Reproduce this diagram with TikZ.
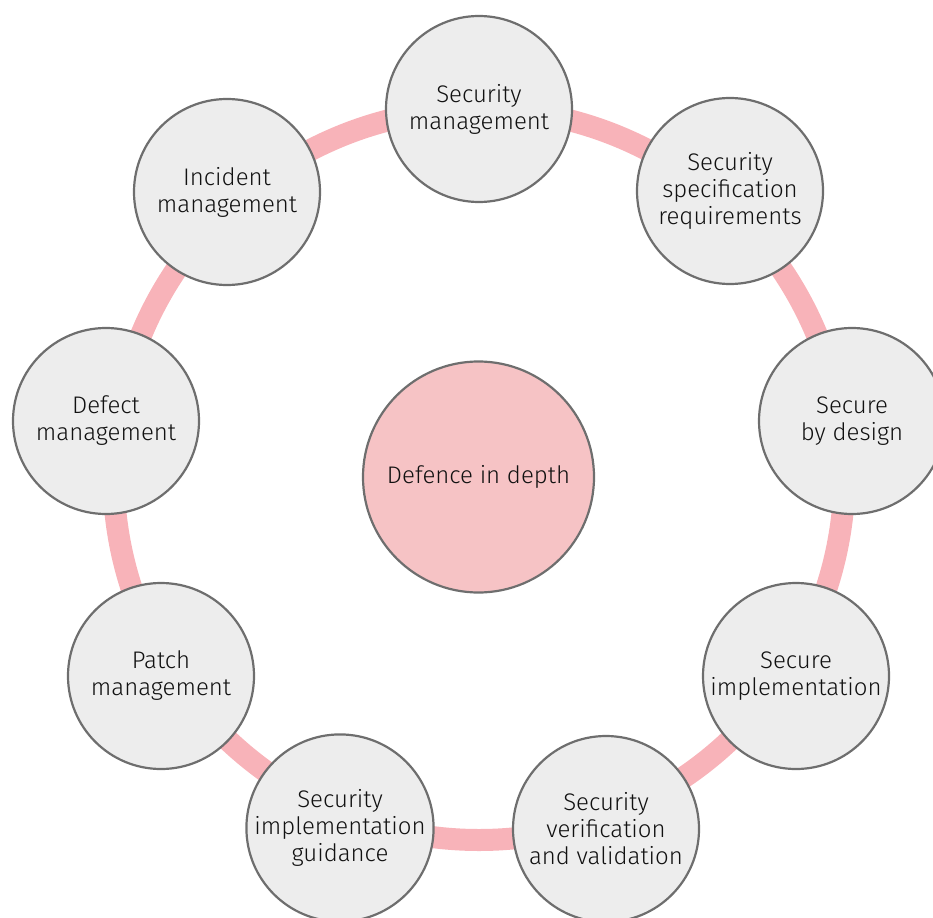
\documentclass[tikz,border=0pt]{standalone}
\usepackage{fontspec}
\setmainfont{Fira Sans}[UprightFont=* Light]
\definecolor{ringpink}{HTML}{F8B3B9}
\definecolor{nodefill}{HTML}{EDEDED}
\definecolor{nodeline}{HTML}{6E6E6E}
\definecolor{centerfill}{HTML}{F6C3C5}
\definecolor{textcol}{HTML}{111111}
\tikzset{
  stage/.style={circle, draw=nodeline, line width=2.2pt, fill=nodefill, minimum size=186pt, inner sep=0pt, align=center, text=textcol, font=\fontsize{24}{27}\selectfont},
  hub/.style={circle, draw=nodeline, line width=2.2pt, fill=centerfill, minimum size=231pt, inner sep=0pt, align=center, text=textcol, font=\fontsize{24}{27}\selectfont},
  ringline/.style={draw=ringpink, line width=22pt}
}
\begin{document}
\begin{tikzpicture}[x=1pt,y=-1pt]
\useasboundingbox (0,0) rectangle (933,917);
\coordinate (rc) at (479,474.5);
\draw[ringline] (rc) circle[radius=365.5pt];
\node[hub] (hub) at (478.5,477) {Defence in depth};
\node[stage] (sm) at (479,109) {Security\\management};
\node[stage] (ssr) at (730,191) {Security\\specification\\requirements};
\node[stage] (sbd) at (852,421) {Secure\\by design};
\node[stage] (si) at (796,676) {Secure\\implementation};
\node[stage] (svv) at (606,829) {Security\\verification\\and validation};
\node[stage] (sig) at (340,828) {Security\\implementation\\guidance};
\node[stage] (pm) at (161,676) {Patch\\management};
\node[stage] (dm) at (106,421) {Defect\\management};
\node[stage] (im) at (227,192) {Incident\\management};
\end{tikzpicture}
\end{document}
